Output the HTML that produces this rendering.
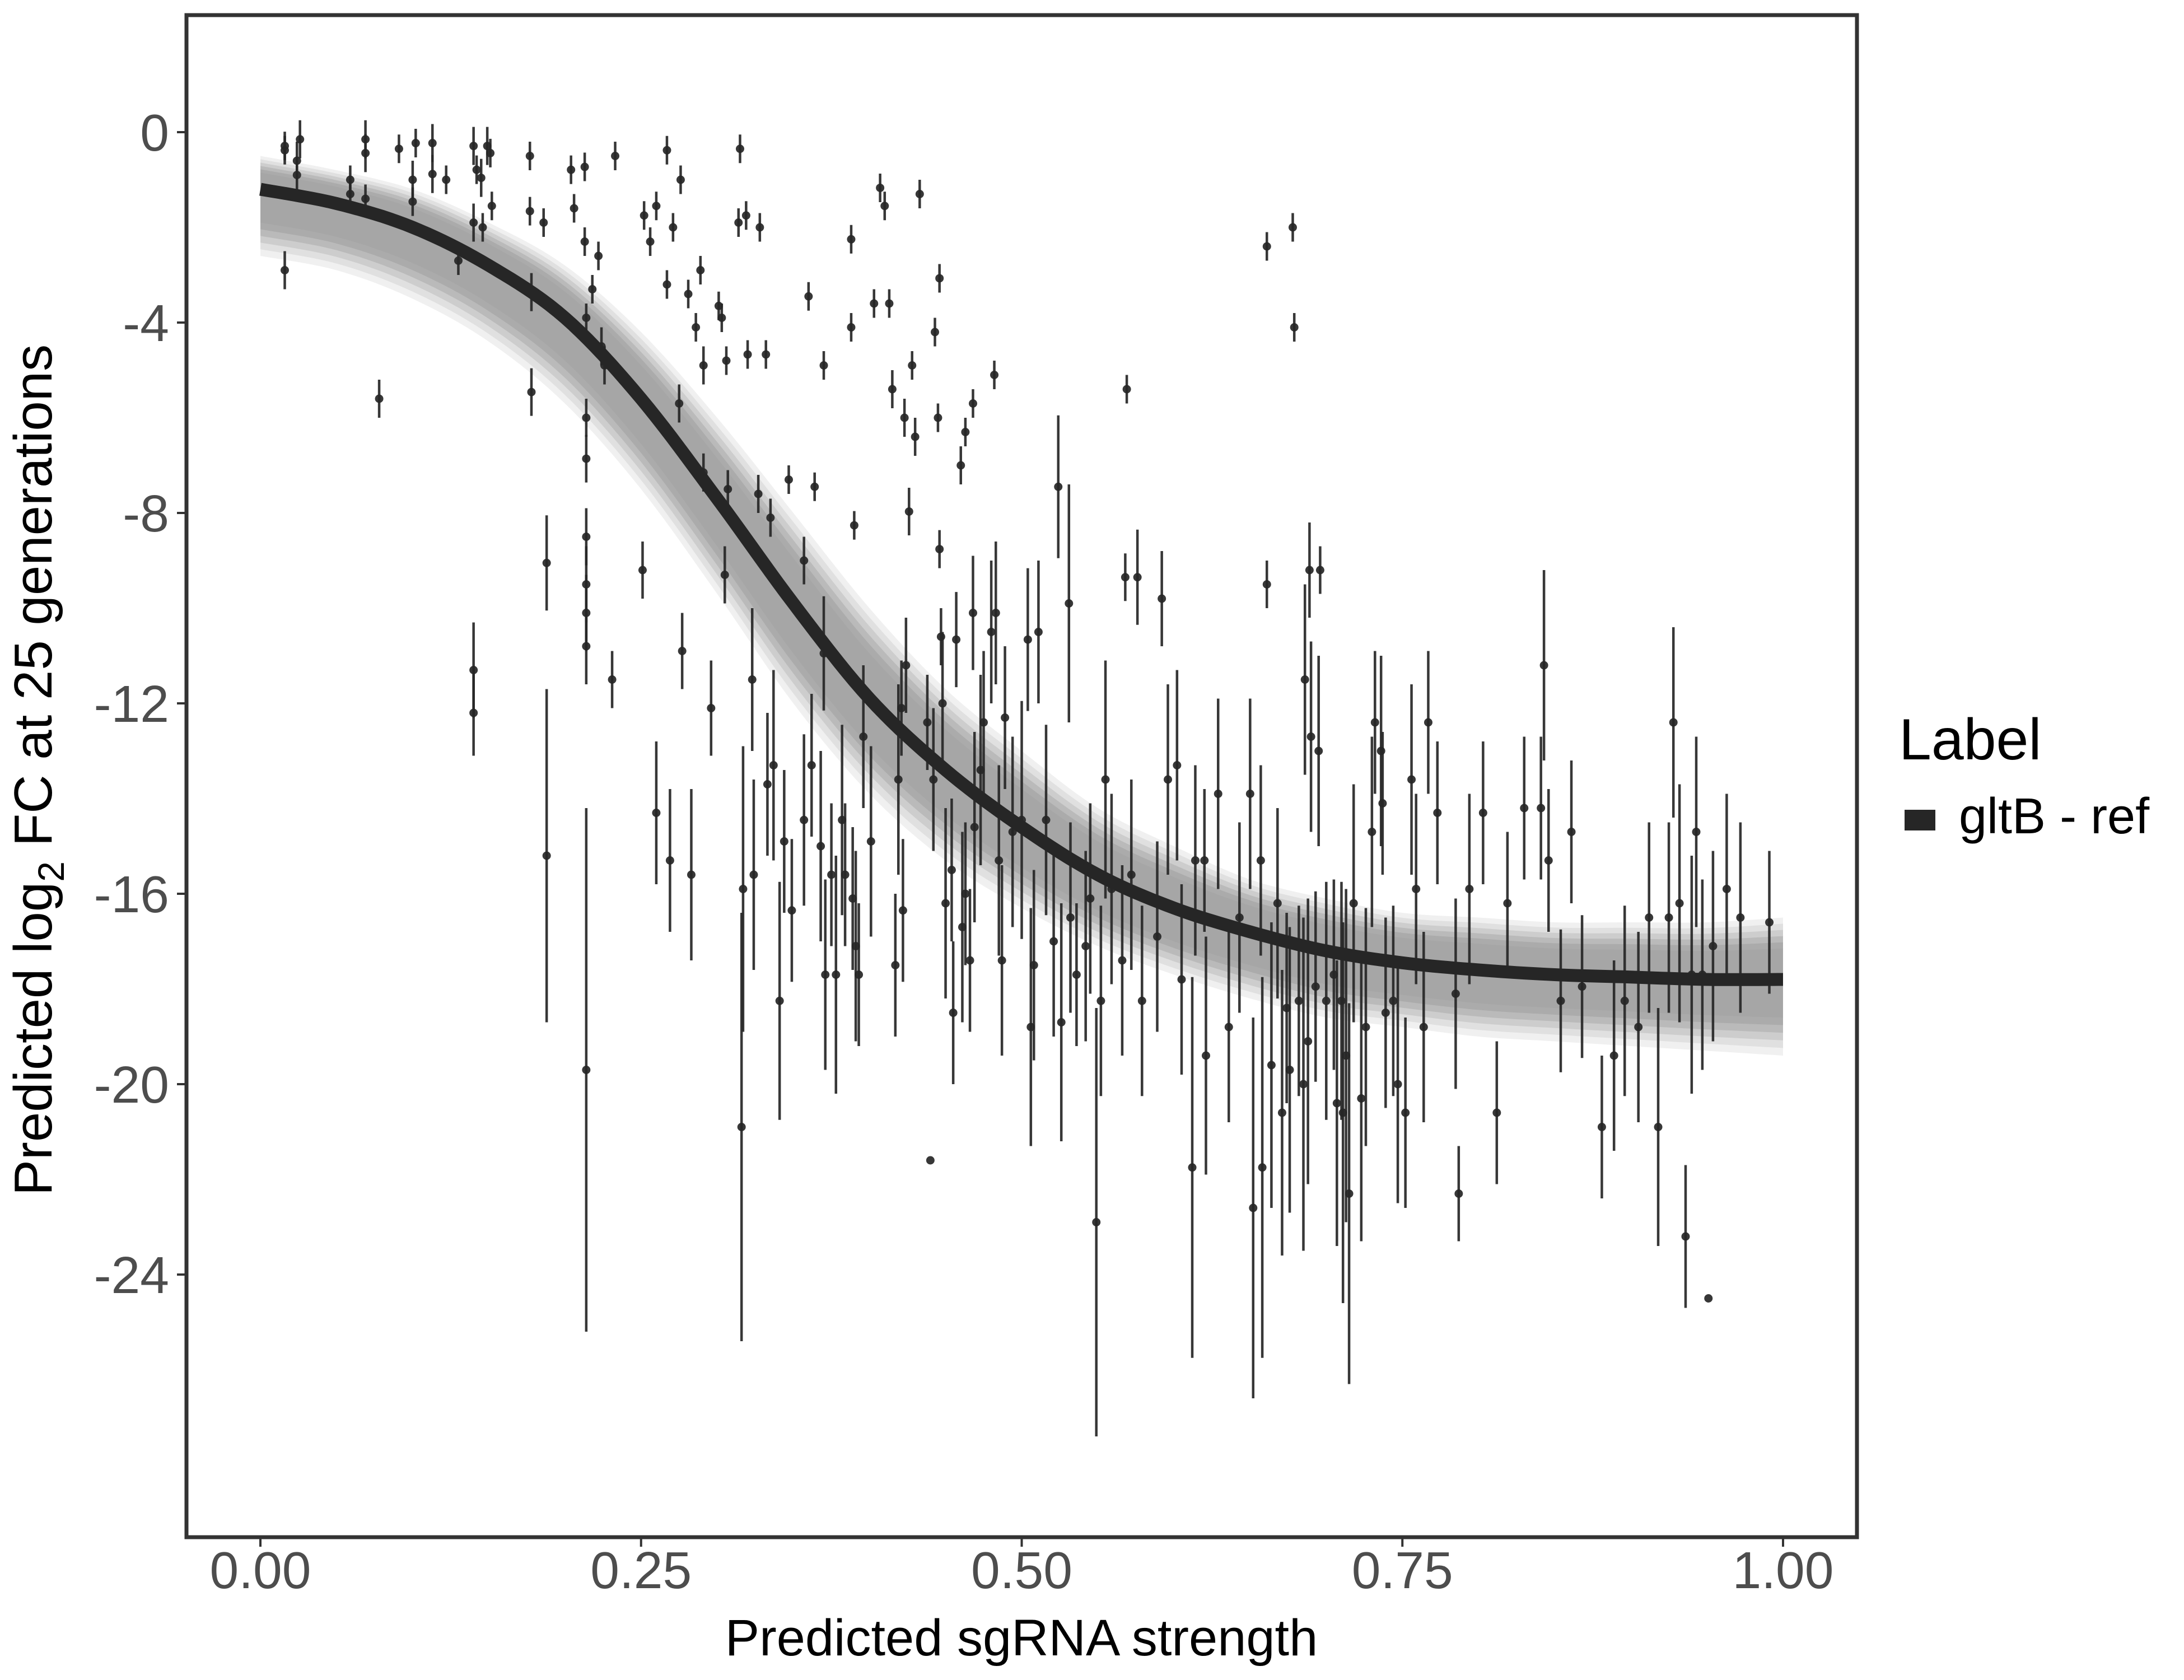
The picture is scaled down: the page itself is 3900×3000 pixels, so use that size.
<!DOCTYPE html>
<html><head><meta charset="utf-8"><title>Predicted log2 FC vs sgRNA strength</title>
<style>html,body{margin:0;padding:0;background:#fff}svg{display:block}text{font-family:"Liberation Sans",Arial,sans-serif}</style>
</head><body>
<svg id="chart" xmlns="http://www.w3.org/2000/svg" width="3900" height="3000" viewBox="0 0 3900 3000">
<rect x="0" y="0" width="3900" height="3000" fill="#fff"/>
<g id="band"></g>
<g id="pts"></g>
<g id="fit"></g>
<rect x="333" y="27" width="2983" height="2718" fill="none" stroke="#333" stroke-width="7"/>
<g id="axes"></g>
<text x="1824" y="2956" font-size="92" text-anchor="middle" fill="#000">Predicted sgRNA strength</text>
<text transform="translate(92,1375) rotate(-90)" font-size="96" text-anchor="middle" fill="#000">Predicted  log<tspan font-size="66" dy="22">2</tspan><tspan dy="-22"> FC at 25 generations</tspan></text>
<text x="3391" y="1356" font-size="104" fill="#000">Label</text>
<rect x="3401" y="1446" width="55" height="37" fill="#262626"/>
<text x="3498" y="1488" font-size="90" fill="#000">gltB - ref</text>
</svg>
<script>
const curveX = [0,.05,.1,.15,.2,.25,.3,.35,.4,.45,.5,.55,.6,.65,.7,.75,.8,.85,.9,.95,1];
const curveY = [-1.2,-1.5,-2.0,-2.8,-3.9,-5.6,-7.7,-9.9,-11.9,-13.4,-14.6,-15.6,-16.3,-16.8,-17.2,-17.45,-17.6,-17.7,-17.75,-17.8,-17.8];
const bandUpper = [-0.5,-0.8,-1.2,-1.9,-2.8,-4.2,-6.0,-8.0,-10.0,-11.7,-13.0,-14.2,-15.0,-15.7,-16.1,-16.4,-16.5,-16.6,-16.6,-16.6,-16.5];
const bandLower = [-2.6,-2.9,-3.5,-4.4,-5.7,-7.5,-9.7,-12.0,-13.9,-15.3,-16.3,-17.1,-17.7,-18.2,-18.6,-18.8,-19.0,-19.1,-19.2,-19.3,-19.4];
const xTicks = [0,0.25,0.5,0.75,1];
const xTickLabels = ["0.00","0.25","0.50","0.75","1.00"];
const yTicks = [0,-4,-8,-12,-16,-20,-24];
const yTickLabels = ["0","-4","-8","-12","-16","-20","-24"];
const ptX = [.016,.016,.016,.024,.024,.026,.059,.059,.069,.069,.069,.078,.091,.1,.1,.102,.113,.113,.122,.13,.14,.14,.142,.145,.149,.151,.14,.14,.146,.152,.177,.177,.178,.178,.186,.188,.188,.204,.206,.213,.213,.214,.214,.214,.214,.214,.214,.214,.214,.218,.222,.224,.226,.231,.233,.251,.252,.256,.26,.26,.267,.267,.269,.271,.275,.276,.277,.281,.283,.286,.289,.291,.291,.296,.301,.303,.305,.307,.306,.314,.315,.316,.317,.319,.32,.323,.324,.327,.328,.332,.333,.335,.337,.341,.344,.347,.349,.357,.357,.36,.362,.364,.368,.37,.37,.371,.375,.378,.382,.384,.388,.388,.389,.39,.391,.393,.396,.401,.403,.407,.41,.413,.415,.417,.419,.421,.422,.423,.424,.426,.428,.43,.433,.438,.442,.443,.445,.446,.446,.447,.448,.44,.45,.454,.455,.457,.46,.461,.463,.463,.466,.468,.468,.469,.473,.475,.48,.482,.483,.485,.487,.489,.494,.5,.504,.506,.508,.511,.516,.521,.524,.526,.531,.532,.536,.542,.545,.549,.552,.555,.559,.566,.568,.569,.572,.576,.579,.589,.592,.596,.602,.605,.612,.614,.62,.621,.629,.636,.643,.65,.652,.657,.658,.661,.661,.664,.668,.671,.674,.676,.678,.679,.682,.685,.686,.688,.689,.69,.693,.695,.696,.7,.705,.707,.71,.711,.713,.715,.718,.723,.726,.73,.732,.736,.737,.739,.744,.747,.752,.756,.759,.764,.767,.773,.785,.787,.794,.803,.812,.819,.83,.841,.843,.846,.854,.861,.868,.881,.889,.896,.905,.912,.918,.925,.928,.932,.936,.94,.943,.947,.951,.954,.963,.972,.991];
const ptY = [-0.29,-0.38,-2.9,-0.6,-0.9,-0.15,-1.0,-1.3,-0.15,-0.44,-1.4,-5.6,-0.35,-1.0,-1.46,-0.23,-0.23,-0.88,-1.0,-2.7,-0.29,-1.9,-0.79,-0.96,-0.29,-0.44,-11.3,-12.2,-2.0,-1.55,-0.5,-1.66,-3.36,-5.46,-1.9,-9.05,-15.2,-0.79,-1.6,-0.73,-2.3,-3.9,-6.0,-6.86,-8.5,-9.5,-10.1,-10.8,-19.7,-3.3,-2.6,-4.5,-4.9,-11.5,-0.5,-9.2,-1.75,-2.3,-14.3,-1.55,-0.38,-3.2,-15.3,-2.0,-5.7,-1.0,-10.9,-3.4,-15.6,-4.1,-2.9,-4.9,-7.15,-12.1,-3.65,-3.9,-9.3,-7.5,-4.8,-1.9,-0.35,-20.9,-15.9,-1.75,-4.67,-11.5,-15.6,-7.6,-2.0,-4.67,-13.7,-8.1,-13.3,-18.25,-14.9,-7.3,-16.35,-9.0,-14.45,-3.45,-13.3,-7.45,-15.0,-4.9,-10.95,-17.7,-15.6,-17.7,-14.45,-15.6,-2.25,-4.1,-16.1,-8.26,-17.1,-17.7,-12.7,-14.9,-3.6,-1.17,-1.55,-3.6,-5.4,-17.5,-13.6,-12.1,-16.35,-6.0,-11.2,-7.97,-4.9,-6.4,-1.3,-12.4,-13.6,-4.2,-6.0,-3.07,-8.76,-10.6,-12.0,-21.6,-16.2,-15.5,-18.5,-10.66,-7.0,-16.7,-6.3,-16.0,-17.4,-5.7,-10.1,-14.6,-13.4,-12.4,-10.5,-5.1,-10.1,-15.3,-17.4,-12.3,-14.7,-14.45,-10.66,-18.8,-17.5,-10.5,-14.45,-17.0,-7.45,-18.7,-9.9,-16.5,-17.7,-17.1,-16.1,-22.9,-18.25,-13.6,-15.9,-17.4,-9.35,-5.4,-15.6,-9.35,-18.25,-16.9,-9.8,-13.6,-13.3,-17.8,-21.75,-15.3,-15.3,-19.4,-13.9,-18.8,-16.5,-13.9,-22.6,-15.3,-21.75,-9.5,-2.4,-19.6,-16.2,-20.6,-18.4,-19.7,-2.0,-4.1,-18.25,-20.0,-11.5,-19.1,-9.2,-12.7,-17.95,-13.0,-9.2,-18.25,-17.7,-20.4,-18.25,-20.6,-19.4,-22.3,-16.2,-20.3,-18.8,-14.7,-12.4,-13.0,-14.1,-18.5,-18.25,-20.0,-20.6,-13.6,-15.9,-18.8,-12.4,-14.3,-18.1,-22.3,-15.9,-14.3,-20.6,-16.2,-14.2,-14.2,-11.2,-15.3,-18.25,-14.7,-17.95,-20.9,-19.4,-18.25,-18.8,-16.5,-20.9,-16.5,-12.4,-16.2,-23.2,-17.7,-14.7,-17.7,-24.5,-17.1,-15.9,-16.5,-16.6];
const ptErr = [.3,.3,.4,.4,.3,.4,.3,.3,.4,.4,.3,.4,.3,.4,.3,.3,.4,.4,.3,.3,.4,.4,.3,.4,.4,.3,1.0,.9,.3,.3,.3,.3,.4,.5,.3,1.0,3.5,.3,.3,.3,.3,.3,.4,.5,.6,.8,.8,.8,5.5,.3,.3,.4,.4,.6,.3,.6,.3,.3,1.5,.3,.3,.3,1.5,.3,.4,.3,.8,.3,1.8,.3,.3,.4,.4,1.0,.3,.3,.6,.4,.3,.3,.3,4.5,3.0,.3,.3,1.5,2.0,.4,.3,.3,1.5,.4,2.0,2.5,1.5,.3,1.5,.5,1.8,.3,1.5,.3,2.0,.3,1.2,2.0,1.5,2.5,2.0,1.5,.3,.3,1.5,.3,2.0,1.5,1.5,2.0,.3,.3,.3,.3,.4,1.5,2.0,1.0,1.5,.4,1.0,.5,.3,.4,.3,1.0,1.5,.3,.3,.3,.4,.6,1.5,0,2.0,1.5,1.5,1.0,.4,2.0,.3,1.5,1.5,.3,1.2,2.0,2.0,1.5,1.5,.3,1.5,2.0,2.0,1.5,2.0,2.5,1.5,2.5,2.0,1.5,2.0,2.0,1.5,2.5,2.5,2.0,1.5,2.0,2.0,4.5,2.0,2.5,2.0,2.0,.5,.3,2.0,1.0,2.0,2.0,1.0,2.0,2.0,2.0,4.0,2.0,1.5,2.5,2.0,2.0,2.0,2.0,4.0,2.0,4.0,.5,.3,3.0,2.0,3.0,2.0,3.0,.3,.3,2.0,3.5,2.0,3.0,1.0,2.0,2.0,2.0,.5,2.5,2.0,3.0,2.5,4.0,3.5,4.0,2.5,3.0,2.5,2.0,1.5,2.0,1.5,2.0,2.0,2.5,2.0,2.0,2.0,2.0,1.5,1.5,2.0,1.0,2.0,1.5,1.5,1.5,1.5,1.5,2.0,1.5,1.5,1.5,1.5,1.5,2.0,2.0,2.0,2.0,2.5,2.0,2.0,2.5,1.5,2.5,2.0,2.0,0,2.0,2.0,2.0,1.5];

const NS = "http://www.w3.org/2000/svg";
const X = v => 465 + v * 2719;
const Y = v => 236 - v * 85;
function mk(tag, attrs, parent) {
  const e = document.createElementNS(NS, tag);
  for (const k in attrs) e.setAttribute(k, attrs[k]);
  parent.appendChild(e);
  return e;
}
function smoothPts(xs, ys) {
  const P = xs.map((x, i) => [X(x), Y(ys[i])]);
  const out = [];
  for (let i = 0; i < P.length - 1; i++) {
    const p0 = P[Math.max(0, i - 1)], p1 = P[i], p2 = P[i + 1], p3 = P[Math.min(P.length - 1, i + 2)];
    for (let s = 0; s < 10; s++) {
      const t = s / 10, t2 = t * t, t3 = t2 * t;
      const f = k => 0.5 * ((2 * p1[k]) + (-p0[k] + p2[k]) * t + (2 * p0[k] - 5 * p1[k] + 4 * p2[k] - p3[k]) * t2 + (-p0[k] + 3 * p1[k] - 3 * p2[k] + p3[k]) * t3);
      out.push([f(0), f(1)]);
    }
  }
  out.push(P[P.length - 1]);
  return out;
}
function smoothPath(xs, ys) {
  return "M" + smoothPts(xs, ys).map(p => p[0].toFixed(1) + "," + p[1].toFixed(1)).join(" L");
}
function bandPoly(up, lo) {
  const a = smoothPts(curveX, up).map(p => p[0].toFixed(1) + "," + p[1].toFixed(1));
  const b = smoothPts(curveX, lo).map(p => p[0].toFixed(1) + "," + p[1].toFixed(1)).reverse();
  return a.concat(b).join(" ");
}
const band = document.getElementById("band");
const fracs = [1.0, 0.9, 0.8, 0.7, 0.6, 0.5];
const fills = ["#f0f0f0", "#e0e0e0", "#cdcdcd", "#bababa", "#ababab", "#a6a6a6"];
fracs.forEach((f, j) => {
  const up = bandUpper.map((u, i) => curveY[i] + (u - curveY[i]) * f);
  const lo = bandLower.map((l, i) => curveY[i] + (l - curveY[i]) * f);
  const p = mk("polygon", {points: bandPoly(up, lo), fill: fills[j]}, band);
  
  
});

const pts = document.getElementById("pts");
for (let i = 0; i < ptX.length; i++) {
  const g = mk("g", {}, pts);
  
  
  if (ptErr[i] > 0) {
    const ln = mk("line", {x1: X(ptX[i]), x2: X(ptX[i]), y1: Y(ptY[i] + ptErr[i]), y2: Y(ptY[i] - ptErr[i]), stroke: "#262626", "stroke-width": 4.5, "stroke-opacity": 0.92}, g);
    
    
  }
  const c = mk("circle", {cx: X(ptX[i]), cy: Y(ptY[i]), r: 7.5, fill: "#262626", "fill-opacity": 0.92}, g);
  
  
}

const fit = document.getElementById("fit");
const fp = mk("path", {d: smoothPath(curveX, curveY), fill: "none", stroke: "#262626", "stroke-width": 23}, fit);



const axes = document.getElementById("axes");
xTicks.forEach((v, i) => {
  const t = mk("line", {x1: X(v), x2: X(v), y1: 2748, y2: 2762, stroke: "#333", "stroke-width": 4}, axes);
  
  
  const l = mk("text", {x: X(v), y: 2836, "font-size": 93, "text-anchor": "middle", fill: "#4d4d4d"}, axes);
  l.textContent = xTickLabels[i];
  
  
});
yTicks.forEach((v, i) => {
  const t = mk("line", {x1: 316, x2: 330, y1: Y(v), y2: Y(v), stroke: "#333", "stroke-width": 4}, axes);
  
  
  const l = mk("text", {x: 302, y: Y(v) + 33, "font-size": 93, "text-anchor": "end", fill: "#4d4d4d"}, axes);
  l.textContent = yTickLabels[i];
  
  
});
</script>
</body></html>
